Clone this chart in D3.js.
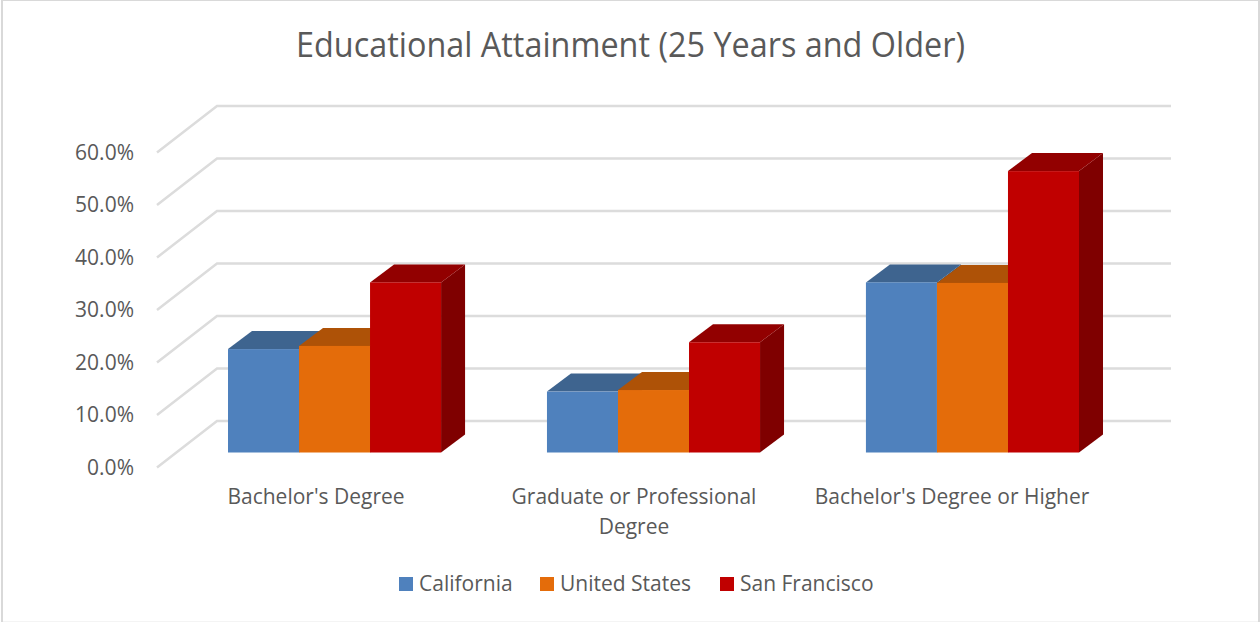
<!DOCTYPE html>
<html><head><meta charset="utf-8">
<script src="https://cdn.jsdelivr.net/npm/d3@7"></script>
<style>html,body{margin:0;padding:0;background:#fff}svg{display:block}text{font-family:"Open Sans",sans-serif;fill:#595959}</style>
</head><body><svg id="c" width="1260" height="622"></svg>
<script>
const categories = ["Bachelor's Degree", "Graduate or Professional Degree", "Bachelor's Degree or Higher"];
const seriesNames = ["California", "United States", "San Francisco"];
const california = [19.7, 11.6, 32.4];
const unitedStates = [20.3, 11.9, 32.3];
const sanFrancisco = [32.4, 21.0, 53.6];
const yTicks = [0, 10, 20, 30, 40, 50, 60];
const frontColors = ["#4f81bd", "#e46c0a", "#c00000"];
const topColors = ["#3e648f", "#ae5207", "#920000"];
const sideColors = ["#33506f", "#7f3b05", "#7f0000"];

const svg = d3.select("#c");
const seriesValues = [california, unitedStates, sanFrancisco];

const y = d3.scaleLinear().domain([0, 60]).range([452.5, 137.5]);
const wallDX = 60, wallDY = -46.5, wallW = 954, axisX = 157, axisZero = 467.5;
const barDX = 24, barDY = -18;
const x0 = d3.scaleBand().domain(categories).range([228, 1079]).paddingInner(0.332);
const x1 = d3.scaleBand().domain(seriesNames).range([0, x0.bandwidth()]);
const xLabel = d3.scaleBand().domain(categories).range([axisX, axisX + wallW]);

// chart frame
svg.append("rect").attr("x", 2).attr("y", 0).attr("width", 1257).attr("height", 640)
  .attr("fill", "#fff").attr("stroke", "#d9d9d9").attr("stroke-width", 2);
svg.append("line").attr("x1", 3).attr("x2", 1258).attr("y1", 621.5).attr("y2", 621.5)
  .attr("stroke", "#f4f4f4").attr("stroke-width", 1);

// title
svg.append("text").attr("x", 630.5).attr("y", 57).attr("text-anchor", "middle")
  .attr("font-size", 35).attr("textLength", 669).attr("lengthAdjust", "spacingAndGlyphs")
  .text("Educational Attainment (25 Years and Older)");

// gridlines on wall and floor
const yOff = axisZero - y(0);
const grid = svg.append("g").attr("fill", "none").attr("stroke", "#dcdcdc").attr("stroke-width", 2.5);
yTicks.forEach(t => {
  const py = y(t) + yOff;
  grid.append("path").attr("d", d3.line()([
    [axisX, py], [axisX + wallDX, py + wallDY], [axisX + wallDX + wallW, py + wallDY]
  ]));
});

// y axis labels
svg.append("g").selectAll("text").data(yTicks).join("text")
  .attr("x", 134).attr("y", d => y(d) + yOff + 7).attr("text-anchor", "end")
  .attr("font-size", 21).text(d => d.toFixed(1) + "%");

// 3D bars
categories.forEach((c, ci) => {
  seriesNames.forEach((s, si) => {
    const v = seriesValues[si][ci];
    const l = x0(c) + x1(s), r = l + x1.bandwidth(), t = y(v), b = y(0);
    const g = svg.append("g");
    const poly = pts => d3.line()(pts) + "Z";
    g.append("path").attr("fill", sideColors[si])
      .attr("d", poly([[r, t], [r + barDX, t + barDY], [r + barDX, b + barDY], [r, b]]));
    g.append("path").attr("fill", topColors[si])
      .attr("d", poly([[l, t], [l + barDX, t + barDY], [r + barDX, t + barDY], [r, t]]));
    g.append("rect").attr("fill", frontColors[si])
      .attr("x", l).attr("y", t).attr("width", r - l).attr("height", b - t);
  });
});

// category labels
const labelLines = [["Bachelor's Degree"], ["Graduate or Professional", "Degree"], ["Bachelor's Degree or Higher"]];
categories.forEach((c, i) => {
  labelLines[i].forEach((ln, k) => {
    svg.append("text").attr("x", xLabel(c) + xLabel.bandwidth() / 2).attr("y", 504 + k * 30)
      .attr("text-anchor", "middle").attr("font-size", 21).text(ln);
  });
});

// legend
const legendX = [399, 540, 720];
seriesNames.forEach((s, i) => {
  svg.append("rect").attr("x", legendX[i]).attr("y", 577).attr("width", 14).attr("height", 14).attr("fill", frontColors[i]);
  svg.append("text").attr("x", legendX[i] + 20).attr("y", 591).attr("font-size", 21).text(s);
});
</script></body></html>
